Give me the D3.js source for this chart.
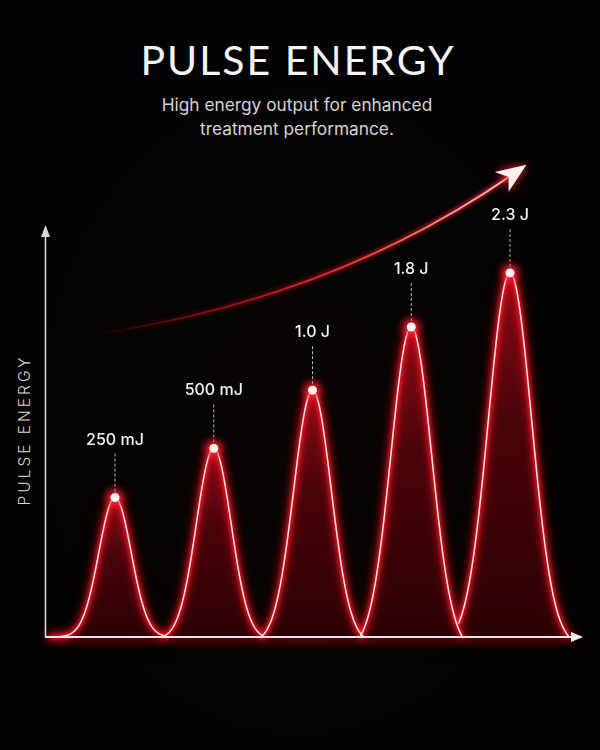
<!DOCTYPE html>
<html>
<head>
<meta charset="utf-8">
<script src="https://cdn.jsdelivr.net/npm/d3@7"></script>
<style>
  html, body { margin: 0; padding: 0; background: #000; }
  svg { display: block; }
</style>
</head>
<body>
<div id="chart"></div>
<script>
/* global d3 */

// Our canvas
const width = 600,
  height = 750

// Chart data
const titleText = 'PULSE ENERGY'
const subtitleLines = ['High energy output for enhanced', 'treatment performance.']
const yLabelText = 'PULSE ENERGY'
const pulseLabels = ['250 mJ', '500 mJ', '1.0 J', '1.8 J', '2.3 J']
// relative drawn height of each pulse (0 - 100)
const pulseLevels = [34, 46, 60.2, 75.6, 88.8]
// trend arrow: start, control, end (pulse index, level)
const trendIdx = [-0.2, 2.18, 4.0]
const trendLvl = [73.9, 82.2, 112.4]

// Drawing area
let svg = d3.select('#chart')
  .append('svg')
  .attr('width', width)
  .attr('height', height)

let defs = svg.append('defs')

// background
let bg = defs.append('radialGradient').attr('id', 'bg')
  .attr('cx', '50%').attr('cy', '55%').attr('r', '70%')
bg.append('stop').attr('offset', '0%').attr('stop-color', '#090505')
bg.append('stop').attr('offset', '100%').attr('stop-color', '#020202')

svg.append('rect')
  .attr('width', width).attr('height', height)
  .attr('fill', 'url(#bg)')

// filters
let mkBlur = (id, sd) => {
  let f = defs.append('filter').attr('id', id)
    .attr('x', '-50%').attr('y', '-50%').attr('width', '200%').attr('height', '200%')
  f.append('feGaussianBlur').attr('stdDeviation', sd)
}
mkBlur('blur2', 2)
mkBlur('blur4', 4)
mkBlur('blur10', 10)

// fill gradient for pulses
let pf = defs.append('linearGradient').attr('id', 'pulseFill')
  .attr('x1', 0).attr('y1', 0).attr('x2', 0).attr('y2', 1)
pf.append('stop').attr('offset', '0%').attr('stop-color', '#8a0a14')
pf.append('stop').attr('offset', '40%').attr('stop-color', '#4a030a')
pf.append('stop').attr('offset', '100%').attr('stop-color', '#2a0004')

// scales
let x = d3.scaleLinear().domain([0, 4]).range([115, 510])
let y = d3.scaleLinear().domain([0, 100]).range([637, 227])

// title
svg.append('text')
  .attr('x', 298).attr('y', 75)
  .attr('text-anchor', 'middle')
  .style('font-family', 'Lato')
  .style('font-weight', 400)
  .style('font-size', '41px')
  .style('letter-spacing', '2px')
  .attr('fill', '#f4f4f4')
  .text(titleText)

svg.selectAll('.sub')
  .data(subtitleLines)
  .enter()
  .append('text')
    .attr('class', 'sub')
    .attr('x', 297)
    .attr('y', (d, i) => 111 + i * 24)
    .attr('text-anchor', 'middle')
    .style('font-family', 'Inter')
    .style('font-size', '17.3px')
    .attr('fill', '#d4d4d4')
    .text(d => d)

// y label
svg.append('text')
  .attr('transform', 'translate(30,430) rotate(-90)')
  .attr('text-anchor', 'middle')
  .style('font-family', 'Inter')
  .style('font-weight', 300)
  .style('font-size', '15.5px')
  .style('letter-spacing', '3px')
  .attr('fill', '#d8d8d8')
  .text(yLabelText)

// pulse shapes
let sigmaOf = (lvl) => 0.13 + 0.001 * lvl
let pulsePoints = (lvl, i) => {
  let s = sigmaOf(lvl)
  let wl = i === 0 ? 0.66 : 0.52
  let wr = i === pulseLevels.length - 1 ? 0.6 : 0.52
  let w = Math.max(wl, wr)
  let e0 = Math.exp(-(w * w) / (2 * s * s))
  return d3.range(-wl, wr + 0.0001, 0.005).map(d => {
    let v = lvl * (Math.exp(-(d * d) / (2 * s * s)) - e0) / (1 - e0)
    return { t: i + d, v: Math.max(0, v) }
  })
}
let pulses = pulseLevels.map((lvl, i) => pulsePoints(lvl, i))

let line = d3.line().x(p => x(p.t)).y(p => y(p.v))
let area = d3.area().x(p => x(p.t)).y0(y(0)).y1(p => y(p.v))

// red haze
svg.append('g').attr('filter', 'url(#blur10)')
  .selectAll('path')
  .data(pulses)
  .enter()
  .append('path')
    .attr('d', area)
    .attr('fill', '#8a0008')
    .attr('opacity', 0.3)

svg.append('rect')
  .attr('x', 45).attr('y', y(0) - 6)
  .attr('width', 530).attr('height', 12)
  .attr('fill', '#c00010')
  .attr('opacity', 0.4)
  .attr('filter', 'url(#blur4)')

// fills
svg.append('g')
  .selectAll('path')
  .data(pulses)
  .enter()
  .append('path')
    .attr('d', area)
    .attr('fill', 'url(#pulseFill)')

// glow strokes
svg.append('g').attr('filter', 'url(#blur4)')
  .selectAll('path')
  .data(pulses)
  .enter()
  .append('path')
    .attr('d', line)
    .attr('fill', 'none')
    .attr('stroke', '#ff1020')
    .attr('stroke-width', 4)

svg.append('g').attr('filter', 'url(#blur2)')
  .selectAll('path')
  .data(pulses)
  .enter()
  .append('path')
    .attr('d', line)
    .attr('fill', 'none')
    .attr('stroke', '#ff2a30')
    .attr('stroke-width', 3)

svg.append('g')
  .selectAll('path')
  .data(pulses)
  .enter()
  .append('path')
    .attr('d', line)
    .attr('fill', 'none')
    .attr('stroke', '#ffe2e2')
    .attr('stroke-width', 1.5)

// axes
let axisColor = '#d6d6d6'
svg.append('line')
  .attr('x1', 45.5).attr('x2', 45.5)
  .attr('y1', y(0)).attr('y2', 236)
  .attr('stroke', axisColor).attr('stroke-width', 1.6)
svg.append('path')
  .attr('d', d3.line()([[45.5, 225], [41, 237], [50, 237]]))
  .attr('fill', axisColor)

svg.append('line')
  .attr('x1', 45).attr('x2', 572)
  .attr('y1', y(0)).attr('y2', y(0))
  .attr('stroke', '#e6e6e6').attr('stroke-width', 1.8)
svg.append('path')
  .attr('d', d3.line()([[583, y(0)], [571, y(0) - 5], [571, y(0) + 5]]))
  .attr('fill', '#f0f0f0')

// dashed leaders
svg.append('g')
  .selectAll('line')
  .data(pulseLevels)
  .enter()
  .append('line')
    .attr('x1', (d, i) => x(i)).attr('x2', (d, i) => x(i))
    .attr('y1', d => y(d) - 6).attr('y2', d => y(d) - 45)
    .attr('stroke', '#b8b8b8')
    .attr('stroke-width', 1)
    .attr('stroke-dasharray', '3,2')

// peak dots
svg.append('g').attr('filter', 'url(#blur4)')
  .selectAll('circle')
  .data(pulseLevels)
  .enter()
  .append('circle')
    .attr('cx', (d, i) => x(i)).attr('cy', d => y(d))
    .attr('r', 8)
    .attr('fill', '#ff2030')

svg.append('g')
  .selectAll('circle')
  .data(pulseLevels)
  .enter()
  .append('circle')
    .attr('cx', (d, i) => x(i)).attr('cy', d => y(d))
    .attr('r', 4.5)
    .attr('fill', '#fff4f4')

// labels
svg.append('g')
  .selectAll('text')
  .data(pulseLevels)
  .enter()
  .append('text')
    .attr('x', (d, i) => x(i))
    .attr('y', d => y(d) - 53)
    .attr('text-anchor', 'middle')
    .style('font-family', 'Inter')
    .style('font-weight', 500)
    .style('font-size', '16px')
    .attr('fill', '#f2f2f2')
    .text((d, i) => pulseLabels[i])

// trend arrow
let tp = trendIdx.map((t, i) => [x(t), y(trendLvl[i])])
let tg = defs.append('linearGradient').attr('id', 'trend')
  .attr('gradientUnits', 'userSpaceOnUse')
  .attr('x1', tp[0][0]).attr('y1', tp[0][1])
  .attr('x2', tp[2][0]).attr('y2', tp[2][1])
tg.append('stop').attr('offset', '0%').attr('stop-color', '#ff1020').attr('stop-opacity', 0)
tg.append('stop').attr('offset', '40%').attr('stop-color', '#d00c18').attr('stop-opacity', 0.5)
tg.append('stop').attr('offset', '100%').attr('stop-color', '#ff3038').attr('stop-opacity', 0.9)

let tcore = defs.append('linearGradient').attr('id', 'trendCore')
  .attr('gradientUnits', 'userSpaceOnUse')
  .attr('x1', tp[0][0]).attr('y1', tp[0][1])
  .attr('x2', tp[2][0]).attr('y2', tp[2][1])
tcore.append('stop').attr('offset', '0%').attr('stop-color', '#ff2020').attr('stop-opacity', 0)
tcore.append('stop').attr('offset', '55%').attr('stop-color', '#ff3030').attr('stop-opacity', 0.85)
tcore.append('stop').attr('offset', '100%').attr('stop-color', '#ffc8c8').attr('stop-opacity', 1)

let tpath = d3.path()
tpath.moveTo(tp[0][0], tp[0][1])
tpath.quadraticCurveTo(tp[1][0], tp[1][1], tp[2][0], tp[2][1])

svg.append('path')
  .attr('d', tpath.toString())
  .attr('fill', 'none')
  .attr('stroke', 'url(#trend)')
  .attr('stroke-width', 4)
  .attr('filter', 'url(#blur2)')
svg.append('path')
  .attr('d', tpath.toString())
  .attr('fill', 'none')
  .attr('stroke', 'url(#trendCore)')
  .attr('stroke-width', 1.8)

// arrow head along end tangent
let ang = Math.atan2(tp[2][1] - tp[1][1], tp[2][0] - tp[1][0])
let tip = [tp[2][0] + 20 * Math.cos(ang), tp[2][1] + 20 * Math.sin(ang)]
let headLen = 30, headW = 12
let back = [tip[0] - headLen * Math.cos(ang), tip[1] - headLen * Math.sin(ang)]
let notch = [tip[0] - headLen * 0.72 * Math.cos(ang), tip[1] - headLen * 0.72 * Math.sin(ang)]
let nx = -Math.sin(ang), ny = Math.cos(ang)
let head = [
  tip,
  [back[0] + nx * headW, back[1] + ny * headW],
  notch,
  [back[0] - nx * headW, back[1] - ny * headW]
]
svg.append('path')
  .attr('d', d3.line()(head) + 'Z')
  .attr('fill', '#ff2030')
  .attr('filter', 'url(#blur4)')
svg.append('path')
  .attr('d', d3.line()(head) + 'Z')
  .attr('fill', '#fff0f0')
</script>
</body>
</html>
